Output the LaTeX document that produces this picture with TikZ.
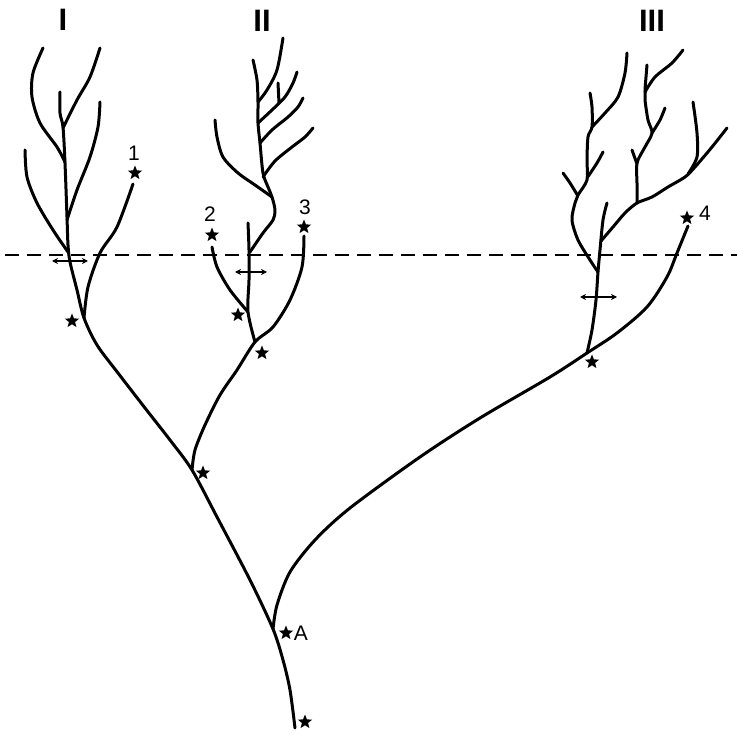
\documentclass[tikz,border=0pt]{standalone}
\usepackage{fontspec}
\setmainfont{Liberation Sans}
\usetikzlibrary{shapes.geometric,arrows.meta}
\begin{document}
\begin{tikzpicture}[x=1pt,y=-1pt,
  br/.style={line width=3pt,line cap=round,line join=round},
  starmark/.style={star,star points=5,star point ratio=2.3,fill=black,inner sep=0pt,minimum size=15pt},
  roman/.style={font=\fontsize{31}{31}\selectfont\bfseries},
  lab/.style={font=\fontsize{21}{21}\selectfont},
  bar/.style={line width=1.6pt,{Stealth[length=6pt,width=6pt]}-{Stealth[length=6pt,width=6pt]}}]
\useasboundingbox (0,0) rectangle (737,735);
% junctions
\coordinate (root) at (295,728);
\coordinate (A) at (273,629);
\coordinate (J1) at (192,470);
\coordinate (JI) at (84,318);
\coordinate (JIIa) at (248,312);
\coordinate (JII) at (255,342);
\coordinate (JIII) at (587,353);
% dashed horizon
\coordinate (dL) at (5,255);
\coordinate (dR) at (737,255);
\draw[line width=2.2pt,dash pattern=on 14pt off 8pt] (dL) -- (dR);
% main trunk through clade I
\draw[br] plot[smooth] coordinates {(root) (290,690) (283,660) (A) (250,580) (217,517) (J1) (170,440) (145,408) (118,373) (97,345) (JI) (77,290) (70,262) (68,245) (67,217) (65,163) (63,127) (60,113) (60,92)};
% clade I branches
\draw[br] plot[smooth] coordinates {(68,252) (53,230) (37,203) (27,177) (25,150)};
\draw[br] plot[smooth] coordinates {(67,220) (77,190) (90,157) (98,127) (100,102)};
\draw[br] plot[smooth] coordinates {(65,162) (57,147) (40,123) (32,97) (33,73) (43,48)};
\draw[br] plot[smooth] coordinates {(63,128) (77,100) (90,77) (100,48)};
\draw[br] plot[smooth] coordinates {(JI) (88,287) (100,253) (117,227) (133,184)};
% branch to clade II (via branch 3)
\draw[br] plot[smooth] coordinates {(J1) (195,450) (205,425) (220,395) (237,370) (JII) (273,327) (290,300) (302,267) (304,236)};
% clade II stem and branch 2
\draw[br] plot[smooth] coordinates {(JII) (JIIa) (249,280) (249,250) (248,223)};
\draw[br] plot[smooth] coordinates {(JIIa) (230,290) (217,267) (212,247)};
% clade II crown
\draw[br] plot[smooth] coordinates {(250,252) (263,233) (273,220) (275,210) (272,197) (268,187) (263,173) (260,143) (258,123) (258,102) (257,80) (253,60)};
\draw[br] plot[smooth] coordinates {(272,197) (255,185) (238,173) (223,157) (217,137) (215,120)};
\draw[br] plot[smooth] coordinates {(263,177) (275,161) (292,147) (305,137) (313,128)};
\draw[br] plot[smooth] coordinates {(260,143) (272,130) (288,117) (298,107) (303,98)};
\draw[br] plot[smooth] coordinates {(258,123) (272,110) (285,97) (293,83) (297,72)};
\draw[br] plot[smooth] coordinates {(279,103) (278,83)};
\draw[br] plot[smooth] coordinates {(258,102) (267,90) (277,70) (283,38)};
% branch A to clade III and branch 4
\draw[br] plot[smooth] coordinates {(A) (277,605) (290,572) (315,540) (350,508) (420,457) (480,418) (550,377) (JIII) (617,333) (647,307) (667,277) (677,253) (688,226)};
% clade III stem
\draw[br] plot[smooth] coordinates {(JIII) (592,330) (596,300) (598,272) (600,250) (603,220) (607,203)};
% clade III left side
\draw[br] plot[smooth] coordinates {(598,272) (590,260) (578,240) (572,220) (575,203) (578,195) (587,180) (587,160) (588,137) (592,127) (592,107) (590,93)};
\draw[br] plot[smooth] coordinates {(578,196) (570,183) (563,173)};
\draw[br] plot[smooth] coordinates {(587,178) (597,163) (603,152)};
\draw[br] plot[smooth] coordinates {(592,127) (605,113) (618,97) (625,73) (627,53)};
% clade III right side
\draw[br] plot[smooth] coordinates {(601,241) (613,227) (625,213) (637,203) (652,197) (668,187) (685,177) (695,167) (712,147) (727,128)};
\draw[br] plot[smooth] coordinates {(688,174) (697,157) (697,133) (693,102)};
\draw[br] plot[smooth] coordinates {(637,203) (637,183) (637,163) (645,147) (652,133) (648,120) (645,100) (645,90) (647,65)};
\draw[br] plot[smooth] coordinates {(637,164) (632,150)};
\draw[br] plot[smooth] coordinates {(652,133) (660,120) (665,108)};
\draw[br] plot[smooth] coordinates {(645,92) (655,77) (672,63) (683,50)};
% stars
\node[starmark] (s0) at (305,722) {};
\node[starmark] (sA) at (286,633) {};
\node[starmark] (sJ1) at (203,473) {};
\node[starmark] (sJI) at (72,321) {};
\node[starmark] (sIIa) at (238,315) {};
\node[starmark] (sII) at (262,353) {};
\node[starmark] (sIII) at (592,362) {};
\node[starmark] (s1) at (135,173) {};
\node[starmark] (s2) at (212,235) {};
\node[starmark] (s3) at (304,227) {};
\node[starmark] (s4) at (687,218) {};
% labels
\node[lab] (lA) at (301,633) {A};
\node[lab] (l1) at (134,153) {1};
\node[lab] (l2) at (210,214) {2};
\node[lab] (l3) at (305,207) {3};
\node[lab] (l4) at (705,213) {4};
\node[roman] (lI) at (63,20) {I};
\node[roman] (lII) at (262,21) {II};
\node[roman] (lIII) at (652,21) {III};
% bars
\coordinate (bIa) at (52,261); \coordinate (bIb) at (88,261);
\coordinate (bIIa) at (235,272); \coordinate (bIIb) at (267,272);
\coordinate (bIIIa) at (580,297); \coordinate (bIIIb) at (617,297);
\draw[bar] (bIa) -- (bIb);
\draw[bar] (bIIa) -- (bIIb);
\draw[bar] (bIIIa) -- (bIIIb);
\end{tikzpicture}
\end{document}
